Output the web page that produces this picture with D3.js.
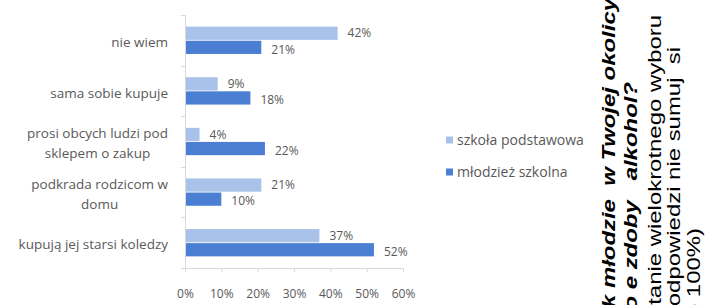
<!DOCTYPE html>
<html>
<head>
<meta charset="utf-8">
<script src="https://cdn.jsdelivr.net/npm/d3@7"></script>
<style>
  body { margin: 0; background: #fff; }
  svg text { white-space: pre; }
</style>
</head>
<body>
<div id="chart"></div>
<script>
var categories = [
  ["nie wiem"],
  ["sama sobie kupuje"],
  ["prosi obcych ludzi pod", "sklepem o zakup"],
  ["podkrada rodzicom w", "domu"],
  ["kupują jej starsi koledzy"]
];
var szkolaPodstawowa = [42, 9, 4, 21, 37];
var mlodziezSzkolna = [21, 18, 22, 10, 52];
var ticks = [0, 10, 20, 30, 40, 50, 60];
var seriesNames = ["szkoła podstawowa", "młodzież szkolna"];
var sideLines = [
  "Jak młodzie  w Twojej okolicy",
  "skąd mo e zdoby   alkohol?",
  "(pytanie wielokrotnego wyboru",
  "odpowiedzi nie sumuj  si",
  "do 100%)"
];

var width = 722, height = 305,
    colors = ["#a9c2ea", "#4a7fd4"],
    axisColor = "#d9d9d9",
    textColor = "#595959",
    chartFont = "'Open Sans', Lato, sans-serif";

var svg = d3.select("#chart").append("svg")
    .attr("width", width)
    .attr("height", height);

svg.append("clipPath").attr("id", "clip")
  .append("rect").attr("x", 0).attr("y", 0).attr("width", 586).attr("height", height);

var g = svg.append("g").attr("clip-path", "url(#clip)");

var keys = categories.map(function(d) { return d.join(" "); });

var x = d3.scaleLinear().domain([0, 60]).range([185, 403]);
var y0 = d3.scaleBand().domain(keys).range([15, 268]).paddingInner(0.46).paddingOuter(0.23);
var y1 = d3.scaleBand().domain([0, 1]).range([0, y0.bandwidth()]).paddingInner(0.06);

var rows = keys.map(function(k, i) {
  return {key: k, lines: categories[i], values: [szkolaPodstawowa[i], mlodziezSzkolna[i]]};
});

// x axis
var xAxis = g.append("g")
    .attr("transform", "translate(0,268)")
    .call(d3.axisBottom(x).tickValues(ticks).tickSize(4).tickPadding(17)
      .tickFormat(function(d) { return d + "%"; }));
xAxis.selectAll("line, path").attr("stroke", axisColor);
xAxis.select(".domain").attr("d", "M185,0.5H403");
xAxis.selectAll("text")
    .attr("fill", textColor)
    .style("font-family", chartFont)
    .style("font-size", "12px");

// y axis line and category boundary ticks
g.append("line")
    .attr("x1", x(0) + 0.5).attr("x2", x(0) + 0.5)
    .attr("y1", 15).attr("y2", 268)
    .attr("stroke", axisColor);
var bounds = keys.map(function(k) { return y0(k) - y0.step() * y0.paddingInner() / 2; });
bounds.push(268);
bounds[0] = 15;
g.selectAll(".ytick").data(bounds).enter().append("line")
    .attr("class", "ytick")
    .attr("x1", x(0) - 4).attr("x2", x(0))
    .attr("y1", function(d) { return Math.round(d) + 0.5; })
    .attr("y2", function(d) { return Math.round(d) + 0.5; })
    .attr("stroke", axisColor);

// bars
var row = g.selectAll(".row").data(rows).enter().append("g")
    .attr("class", "row")
    .attr("transform", function(d) { return "translate(0," + y0(d.key) + ")"; });

row.selectAll("rect")
    .data(function(d) { return d.values; })
  .enter().append("rect")
    .attr("x", x(0) + 1)
    .attr("y", function(d, i) { return y1(i); })
    .attr("width", function(d) { return x(d) - x(0) - 1; })
    .attr("height", y1.bandwidth())
    .attr("fill", function(d, i) { return colors[i]; });

row.selectAll(".val")
    .data(function(d) { return d.values; })
  .enter().append("text")
    .attr("class", "val")
    .attr("x", function(d) { return x(d) + 10; })
    .attr("y", function(d, i) { return y1(i) + y1.bandwidth() / 2 + (i ? 2 : 0); })
    .attr("dy", "0.35em")
    .attr("fill", textColor)
    .style("font-family", chartFont)
    .style("font-size", "12px")
    .text(function(d) { return d + "%"; });

// category labels
var labels = g.selectAll(".cat").data(rows).enter().append("text")
    .attr("class", "cat")
    .attr("fill", textColor)
    .style("font-family", chartFont)
    .style("font-size", "13.5px")
    .attr("text-anchor", "middle");

labels.each(function(d) {
  var t = d3.select(this);
  var n = d.lines.length;
  var cy = y0(d.key) + y0.bandwidth() / 2 + 2;
  var spans = t.selectAll("tspan").data(d.lines).enter().append("tspan")
      .attr("y", function(l, j) { return cy + (j - (n - 1) / 2) * 20; })
      .attr("dy", "0.35em")
      .text(function(l) { return l; });
  var maxW = 0;
  spans.each(function() { maxW = Math.max(maxW, this.getComputedTextLength()); });
  spans.attr("x", 168 - maxW / 2);
});

// legend
var legend = g.selectAll(".legend").data(seriesNames).enter().append("g")
    .attr("class", "legend")
    .attr("transform", function(d, i) { return "translate(446," + (140 + i * 32) + ")"; });
legend.append("rect")
    .attr("x", 0).attr("y", -3.5)
    .attr("width", 7).attr("height", 7)
    .attr("fill", function(d, i) { return colors[i]; });
legend.append("text")
    .attr("x", 11).attr("dy", "0.35em")
    .attr("fill", textColor)
    .style("font-family", chartFont)
    .style("font-size", "14px")
    .text(function(d) { return d; });

// rotated side note
var sideX = [615, 637, 661, 680, 700];
var sideEnd = [-2, 82, 15, 47, 228];
svg.append("g").selectAll("text").data(sideLines).enter().append("text")
    .attr("transform", function(d, i) {
      return "translate(" + sideX[i] + "," + sideEnd[i] + ") rotate(-90) scale(1.33,1)";
    })
    .attr("text-anchor", "end")
    .attr("fill", "#000")
    .style("font-family", "'Liberation Sans', Arial, sans-serif")
    .style("font-size", "18px")
    .style("font-weight", function(d, i) { return i < 2 ? "bold" : "normal"; })
    .style("font-style", function(d, i) { return i < 2 ? "italic" : "normal"; })
    .text(function(d) { return d; });
</script>
</body>
</html>
